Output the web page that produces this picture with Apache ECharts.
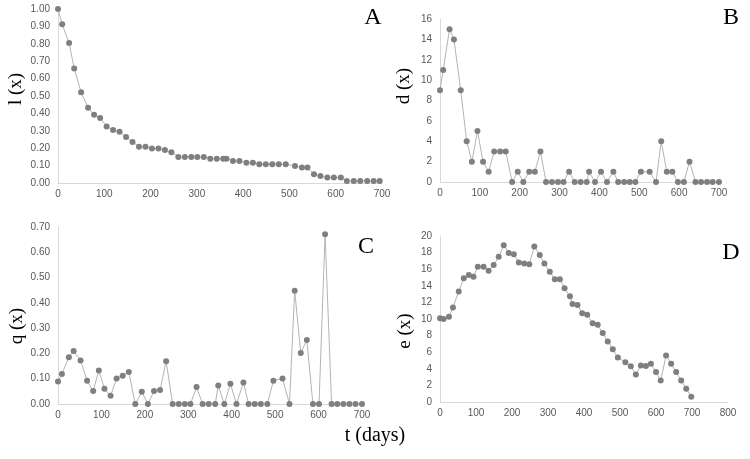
<!DOCTYPE html>
<html>
<head>
<meta charset="utf-8">
<script src="https://cdn.jsdelivr.net/npm/echarts@6/dist/echarts.min.js"></script>
<style>
html,body{margin:0;padding:0;background:#fff;}
#chart{width:750px;height:459px;}
</style>
</head>
<body>
<div id="chart"></div>
<script>
// Panel A: l(x)
const xA = [0, 9, 24, 35, 50, 65, 78, 91, 105, 119, 133, 147, 161, 175, 189, 203, 217, 231, 245, 260, 274, 288, 301, 315, 329, 343, 357, 364, 378, 392, 407, 421, 435, 449, 463, 477, 492, 512, 527, 539, 553, 567, 582, 596, 611, 624, 639, 653, 668, 682, 695];
const lA = [1.00, 0.913, 0.804, 0.658, 0.521, 0.433, 0.392, 0.373, 0.325, 0.305, 0.295, 0.265, 0.236, 0.208, 0.208, 0.198, 0.198, 0.189, 0.177, 0.15, 0.15, 0.15, 0.15, 0.15, 0.14, 0.14, 0.14, 0.14, 0.127, 0.127, 0.117, 0.117, 0.108, 0.108, 0.108, 0.108, 0.108, 0.098, 0.089, 0.089, 0.05, 0.04, 0.031, 0.031, 0.031, 0.012, 0.012, 0.012, 0.012, 0.012, 0.012];
// Panel B: d(x)
const xB = [0, 8, 24, 35, 52, 67, 80, 94, 108, 122, 136, 151, 165, 181, 195, 209, 224, 238, 252, 266, 281, 296, 310, 324, 338, 353, 368, 374, 389, 404, 419, 435, 447, 462, 476, 490, 504, 526, 542, 555, 569, 583, 597, 612, 626, 641, 655, 670, 684, 700];
const dB = [9, 11, 15, 14, 9, 4, 2, 5, 2, 1, 3, 3, 3, 0, 1, 0, 1, 1, 3, 0, 0, 0, 0, 1, 0, 0, 0, 1, 0, 1, 0, 1, 0, 0, 0, 0, 1, 1, 0, 4, 1, 1, 0, 0, 2, 0, 0, 0, 0, 0];
// Panel C: q(x)
const xC = [0, 9, 25, 36, 52, 67, 81, 94, 107, 121, 135, 149, 163, 178, 193, 207, 221, 235, 249, 264, 278, 292, 305, 319, 333, 347, 362, 369, 383, 397, 411, 427, 439, 453, 467, 482, 496, 517, 533, 545, 559, 573, 587, 601, 615, 630, 643, 657, 671, 685, 700];
const qC = [0.089, 0.119, 0.185, 0.21, 0.172, 0.092, 0.051, 0.132, 0.06, 0.033, 0.101, 0.112, 0.127, 0, 0.048, 0, 0.051, 0.055, 0.169, 0, 0, 0, 0, 0.067, 0, 0, 0, 0.073, 0, 0.08, 0, 0.085, 0, 0, 0, 0, 0.092, 0.101, 0, 0.448, 0.202, 0.253, 0, 0, 0.671, 0, 0, 0, 0, 0, 0];
// Panel D: e(x)
const xD = [0, 10, 25, 36, 52, 66, 80, 93, 105, 121, 135, 149, 163, 177, 191, 205, 219, 234, 248, 262, 277, 290, 305, 319, 333, 346, 361, 368, 382, 395, 409, 424, 438, 452, 466, 480, 494, 515, 530, 544, 558, 572, 586, 600, 613, 628, 642, 656, 670, 684, 698];
const eD = [10.1, 10.0, 10.26, 11.4, 13.3, 14.9, 15.3, 15.1, 16.3, 16.3, 15.8, 16.5, 17.5, 18.9, 17.95, 17.8, 16.8, 16.7, 16.6, 18.75, 17.7, 16.7, 15.7, 14.8, 14.8, 13.7, 12.75, 11.8, 11.7, 10.7, 10.5, 9.5, 9.3, 8.3, 7.3, 6.36, 5.35, 4.8, 4.3, 3.3, 4.4, 4.35, 4.6, 3.6, 2.6, 5.6, 4.6, 3.6, 2.6, 1.6, 0.64];

const yTitles = ['l (x)', 'd (x)', 'q (x)', 'e (x)'];
const panelLetters = ['A', 'B', 'C', 'D'];
const xTitle = 't (days)';

const zip = (xs, ys) => xs.map((x, i) => [x, ys[i]]);

const labelStyle = {color: '#595959', fontSize: 10, fontFamily: 'Liberation Sans, Arial, sans-serif'};
const axisLine = {show: true, lineStyle: {color: '#d9d9d9', width: 1}};

function xAxis(gi, max) {
  return {type: 'value', gridIndex: gi, min: 0, max: max, interval: 100,
    axisLine: axisLine, axisTick: {show: false}, splitLine: {show: false},
    axisLabel: Object.assign({margin: 6, showMaxLabel: true}, labelStyle)};
}
function yAxis(gi, max, interval, dec) {
  return {type: 'value', gridIndex: gi, min: 0, max: max, interval: interval,
    axisLine: axisLine, axisTick: {show: false}, splitLine: {show: false},
    axisLabel: Object.assign({margin: 8, formatter: v => v.toFixed(dec)}, labelStyle)};
}
function series(gi, data) {
  return {type: 'line', xAxisIndex: gi, yAxisIndex: gi, data: data,
    symbol: 'circle', symbolSize: 6, showAllSymbol: true, animation: false,
    itemStyle: {color: '#7f7f7f'}, lineStyle: {color: '#b4b4b4', width: 1}};
}

const serif = 'Liberation Serif, Times New Roman, serif';
function vtext(txt, x, y) {
  return {type: 'text', x: x, y: y, rotation: Math.PI / 2,
    style: {text: txt, x: 0, y: 0, fill: '#000', font: '19px ' + serif, textAlign: 'center', textVerticalAlign: 'middle'}};
}
function htext(txt, x, y, size) {
  return {type: 'text', x: x, y: y,
    style: {text: txt, x: 0, y: 0, fill: '#000', font: size + 'px ' + serif, textAlign: 'center', textVerticalAlign: 'middle'}};
}

const chart = echarts.init(document.getElementById('chart'));
chart.setOption({
  backgroundColor: '#fff',
  animation: false,
  grid: [
    {left: 58, top: 9, width: 324, height: 174},
    {left: 440, top: 19, width: 279, height: 163},
    {left: 58, top: 227, width: 304, height: 177},
    {left: 440, top: 236, width: 288, height: 166}
  ],
  xAxis: [xAxis(0, 700), xAxis(1, 700), xAxis(2, 700), xAxis(3, 800)],
  yAxis: [yAxis(0, 1, 0.1, 2), yAxis(1, 16, 2, 0), yAxis(2, 0.7, 0.1, 2), yAxis(3, 20, 2, 0)],
  series: [series(0, zip(xA, lA)), series(1, zip(xB, dB)), series(2, zip(xC, qC)), series(3, zip(xD, eD))],
  graphic: [
    vtext(yTitles[0], 16, 89),
    vtext(yTitles[1], 404, 86),
    vtext(yTitles[2], 17, 326),
    vtext(yTitles[3], 405, 331),
    htext(panelLetters[0], 373, 18, 24),
    htext(panelLetters[1], 731, 18, 24),
    htext(panelLetters[2], 366, 247, 24),
    htext(panelLetters[3], 731, 253, 24),
    htext(xTitle, 375, 436, 20)
  ]
});
</script>
</body>
</html>
